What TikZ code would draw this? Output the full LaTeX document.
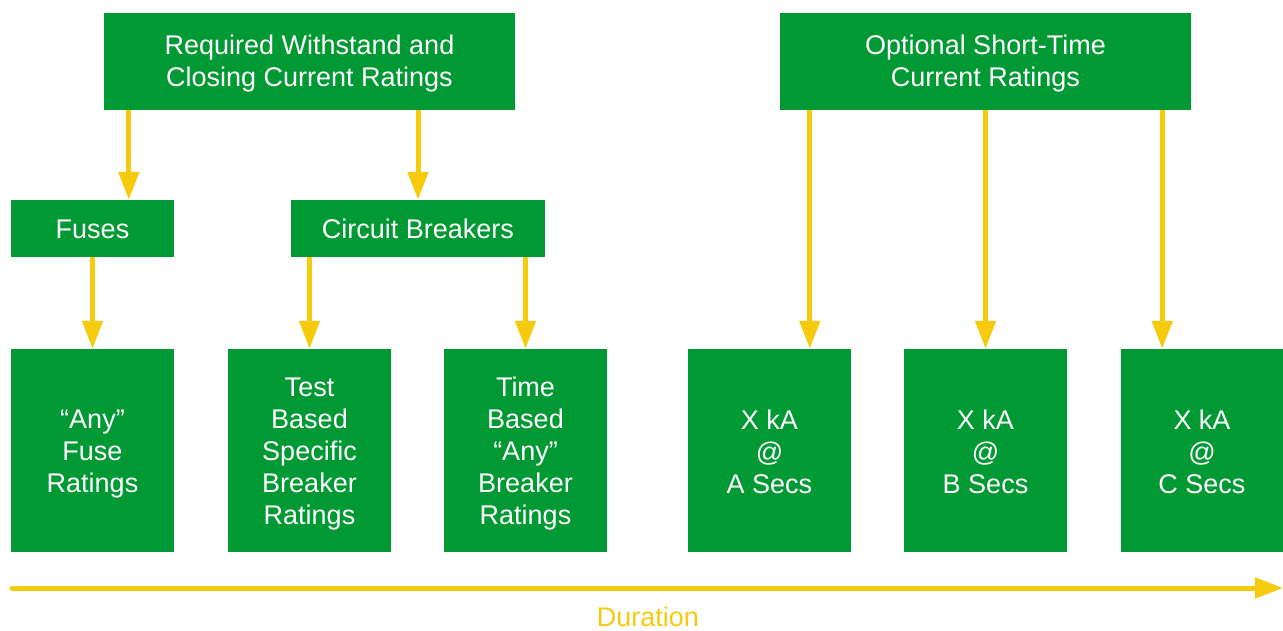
\documentclass[tikz,border=0pt]{standalone}
\usepackage{fontspec}
\setmainfont{Liberation Sans}
\usetikzlibrary{arrows.meta}
\definecolor{boxgreen}{RGB}{0,153,51}
\definecolor{arrowyellow}{RGB}{246,203,14}
\begin{document}
\begin{tikzpicture}[x=1pt,y=-1pt,
  gbox/.style={fill=boxgreen,inner sep=0pt},
  gtxt/.style={text=white,inner sep=0pt,align=center,
    font=\fontsize{27}{32}\selectfont},
  arr/.style={draw=arrowyellow,line width=5pt,
    -{Triangle[width=20pt,length=28pt,fill=arrowyellow]}}]
\useasboundingbox (0,0) rectangle (1283,630);
% boxes
\node[gbox,minimum width=411pt,minimum height=97pt] (top1) at (309.5,61.5) {};
\node[gbox,minimum width=411pt,minimum height=97pt] (top2) at (985.5,61.5) {};
\node[gbox,minimum width=163pt,minimum height=57pt] (fuses) at (92.5,228.5) {};
\node[gbox,minimum width=254pt,minimum height=57pt] (cb) at (418,228.5) {};
\node[gbox,minimum width=163pt,minimum height=203pt] (b1) at (92.5,450.5) {};
\node[gbox,minimum width=163pt,minimum height=203pt] (b2) at (309.5,450.5) {};
\node[gbox,minimum width=163pt,minimum height=203pt] (b3) at (525.5,450.5) {};
\node[gbox,minimum width=163pt,minimum height=203pt] (b4) at (769.5,450.5) {};
\node[gbox,minimum width=163pt,minimum height=203pt] (b5) at (985.5,450.5) {};
\node[gbox,minimum width=163pt,minimum height=203pt] (b6) at (1202,450.5) {};
% texts
\node[gtxt] (t1) at ([yshift=-2.5pt]top1.center) {Required Withstand and\\Closing Current Ratings};
\node[gtxt] (t2) at ([yshift=-2.5pt]top2.center) {Optional Short-Time\\Current Ratings};
\node[gtxt] (tf) at ([yshift=-0.5pt]fuses.center) {Fuses};
\node[gtxt] (tc) at ([yshift=-0.5pt]cb.center) {Circuit Breakers};
\node[gtxt] (tb1) at ([yshift=-4pt]b1.center) {“Any”\\Fuse\\Ratings};
\node[gtxt] (tb2) at ([yshift=-3.5pt]b2.center) {Test\\Based\\Specific\\Breaker\\Ratings};
\node[gtxt] (tb3) at ([yshift=-3.5pt]b3.center) {Time\\Based\\“Any”\\Breaker\\Ratings};
\node[gtxt] (tb4) at ([yshift=-1pt]b4.center) {X kA\\@\\A Secs};
\node[gtxt] (tb5) at ([yshift=-1pt]b5.center) {X kA\\@\\B Secs};
\node[gtxt] (tb6) at ([yshift=-1pt]b6.center) {X kA\\@\\C Secs};
% connectors
\draw[arr] ([xshift=25pt]top1.south west) -- ([xshift=25pt]top1.south west |- fuses.north);
\draw[arr] (top1.south -| cb.north) -- (cb.north);
\draw[arr] (fuses.south) -- (b1.north);
\draw[arr] (cb.south -| b2.north) -- (b2.north);
\draw[arr] (cb.south -| b3.north) -- (b3.north);
\draw[arr] ([xshift=30pt]top2.south west) -- ([xshift=30pt]top2.south west |- b4.north);
\draw[arr] (top2.south) -- (b5.north);
\draw[arr] ([xshift=-29pt]top2.south east) -- ([xshift=-29pt]top2.south east |- b6.north);
% duration axis
\coordinate (d0) at (12,588);
\coordinate (d1) at (1283,588);
\draw[arr,line cap=round] (d0) -- (d1);
\node[text=arrowyellow,inner sep=0pt,anchor=base,font=\fontsize{27}{32}\selectfont] (dur) at (648,626) {Duration};
\end{tikzpicture}
\end{document}
